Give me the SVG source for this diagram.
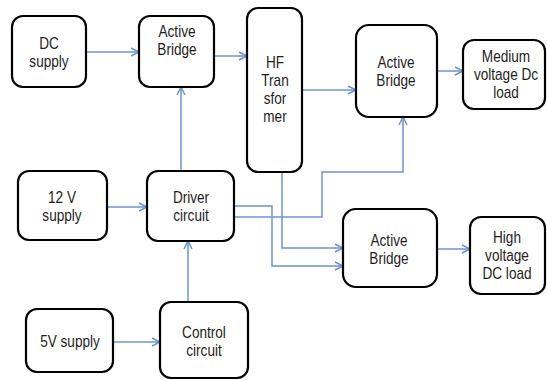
<svg xmlns="http://www.w3.org/2000/svg" width="547" height="380" viewBox="0 0 547 380">
  <style>
    .box { fill: #ffffff; stroke: #000000; stroke-width: 2.2; }
    .lbl { font-family: "Liberation Sans", Arial, sans-serif; font-size: 16px; fill: #1e1e1e; text-anchor: middle; }
    .wire { fill: none; stroke: #6b94cc; stroke-width: 1.5; }
  </style>
  <defs>
    <marker id="arrow" markerUnits="userSpaceOnUse" markerWidth="12" markerHeight="12" refX="9" refY="5" orient="auto">
      <path d="M1,1 L9,5 L1,9" fill="none" stroke="#6b94cc" stroke-width="1.5"/>
    </marker>
  </defs>
  <rect width="547" height="380" fill="#ffffff"/>

  <g id="connectors">
    <path class="wire" marker-end="url(#arrow)" d="M86,52 H139"/>
    <path class="wire" marker-end="url(#arrow)" d="M214,56 H247"/>
    <path class="wire" marker-end="url(#arrow)" d="M181,171 V87"/>
    <path class="wire" marker-end="url(#arrow)" d="M302,90 H356"/>
    <path class="wire" marker-end="url(#arrow)" d="M437,71 H463"/>
    <path class="wire" marker-end="url(#arrow)" d="M107,207 H147"/>
    <path class="wire" marker-end="url(#arrow)" d="M188,302 V241"/>
    <path class="wire" marker-end="url(#arrow)" d="M113,342 H160"/>
    <path class="wire" marker-end="url(#arrow)" d="M234,217 H322 V172 H403 V117"/>
    <path class="wire" marker-end="url(#arrow)" d="M234,206 H272 V266 H343"/>
    <path class="wire" marker-end="url(#arrow)" d="M282,172 V248 H343"/>
    <path class="wire" marker-end="url(#arrow)" d="M437,249 H470"/>
  </g>

  <g id="dc-supply">
    <rect class="box" x="12" y="16" width="74" height="71" rx="11"/>
    <g transform="translate(49 0) scale(0.85 1)">
      <text class="lbl" x="0" y="49">DC</text>
      <text class="lbl" x="0" y="67">supply</text>
    </g>
  </g>

  <g id="active-bridge-in">
    <rect class="box" x="139" y="16" width="75" height="71" rx="11"/>
    <g transform="translate(177 0) scale(0.85 1)">
      <text class="lbl" x="0" y="37">Active</text>
      <text class="lbl" x="0" y="55">Bridge</text>
    </g>
  </g>

  <g id="hf-transformer">
    <rect class="box" x="247" y="8" width="55" height="164" rx="11"/>
    <g transform="translate(275 0) scale(0.85 1)">
      <text class="lbl" x="0" y="68.5">HF</text>
      <text class="lbl" x="0" y="86.5">Tran</text>
      <text class="lbl" x="0" y="104.5">sfor</text>
      <text class="lbl" x="0" y="122.5">mer</text>
    </g>
  </g>

  <g id="active-bridge-mv">
    <rect class="box" x="356" y="25" width="81" height="92" rx="13"/>
    <g transform="translate(396 0) scale(0.85 1)">
      <text class="lbl" x="0" y="68.5">Active</text>
      <text class="lbl" x="0" y="86.5">Bridge</text>
    </g>
  </g>

  <g id="medium-voltage-load">
    <rect class="box" x="463" y="40" width="82" height="69" rx="11"/>
    <g transform="translate(506 0) scale(0.85 1)">
      <text class="lbl" x="0" y="62.5">Medium</text>
      <text class="lbl" x="0" y="80.5">voltage Dc</text>
      <text class="lbl" x="0" y="98.5">load</text>
    </g>
  </g>

  <g id="supply-12v">
    <rect class="box" x="18" y="171" width="89" height="69" rx="11"/>
    <g transform="translate(62 0) scale(0.85 1)">
      <text class="lbl" x="0" y="203.5">12 V</text>
      <text class="lbl" x="0" y="221.5">supply</text>
    </g>
  </g>

  <g id="driver-circuit">
    <rect class="box" x="147" y="171" width="87" height="70" rx="11"/>
    <g transform="translate(191 0) scale(0.85 1)">
      <text class="lbl" x="0" y="203.5">Driver</text>
      <text class="lbl" x="0" y="221.5">circuit</text>
    </g>
  </g>

  <g id="active-bridge-hv">
    <rect class="box" x="343" y="209" width="94" height="78" rx="13"/>
    <g transform="translate(389 0) scale(0.85 1)">
      <text class="lbl" x="0" y="246">Active</text>
      <text class="lbl" x="0" y="264">Bridge</text>
    </g>
  </g>

  <g id="high-voltage-load">
    <rect class="box" x="470" y="217" width="75" height="77" rx="11"/>
    <g transform="translate(507 0) scale(0.85 1)">
      <text class="lbl" x="0" y="243.5">High</text>
      <text class="lbl" x="0" y="261.5">voltage</text>
      <text class="lbl" x="0" y="279.5">DC load</text>
    </g>
  </g>

  <g id="supply-5v">
    <rect class="box" x="26" y="309" width="87" height="63" rx="11"/>
    <g transform="translate(70 0) scale(0.85 1)">
      <text class="lbl" x="0" y="347.5">5V supply</text>
    </g>
  </g>

  <g id="control-circuit">
    <rect class="box" x="160" y="302" width="88" height="76" rx="11"/>
    <g transform="translate(204 0) scale(0.85 1)">
      <text class="lbl" x="0" y="338.5">Control</text>
      <text class="lbl" x="0" y="356.5">circuit</text>
    </g>
  </g>
</svg>
